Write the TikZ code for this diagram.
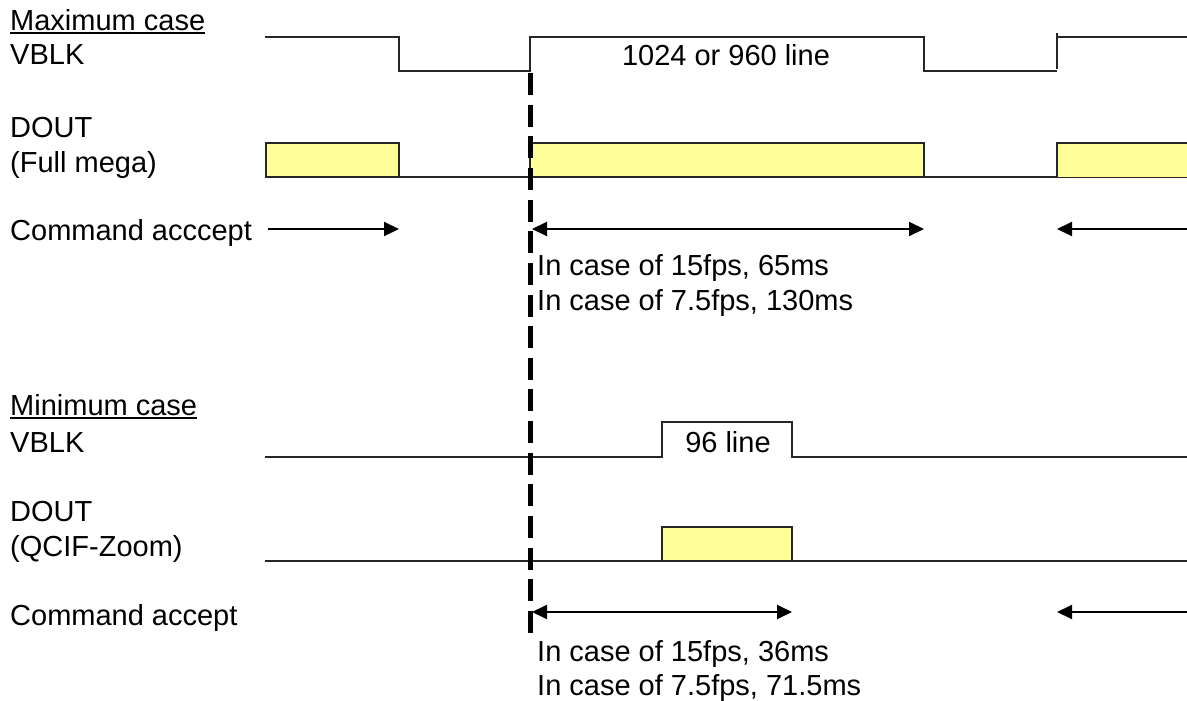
\documentclass[tikz,border=0pt]{standalone}
\usepackage{fontspec}
\setmainfont{Liberation Sans}
\usepackage{tikz}
\usetikzlibrary{positioning}
\usetikzlibrary{arrows.meta}
\definecolor{datayellow}{HTML}{FFFF99}

\begin{document}
\begin{tikzpicture}[x=1pt, y=-1pt, font=\fontsize{29}{34}\selectfont,
  >={Triangle[length=15pt,width=14pt]},
  txt/.style = {anchor=base west, inner sep=0pt},
  wave/.style = {line width=2pt, black!85},
  data/.style = {draw=black!85, line width=2pt, fill=datayellow},
  span/.style = {line width=2pt},
  marker/.style = {line width=5pt, dash pattern=on 22pt off 9.65pt}]
            \useasboundingbox (0,0) rectangle (1187,701);
            % Labels
            \node[txt] (maxcase) at (10,31) {Maximum case};
            \node[txt] (vblk1) at (10,65) {VBLK};
            \node[txt] (dout1) at (10,137) {DOUT};
            \node[txt] (full) at (10,172) {(Full mega)};
            \node[txt] (cmd1) at (10,240) {Command acccept};
            \node[txt] (fps15a) at (537,275) {In case of 15fps, 65ms};
            \node[txt] (fps75a) at (537,310) {In case of 7.5fps, 130ms};
            \node[anchor=base, inner sep=0pt] (line1) at (726,66) {1024 or 960 line};
            \node[txt] (mincase) at (10,415) {Minimum case};
            \node[txt] (vblk2) at (10,452) {VBLK};
            \node[txt] (dout2) at (10,521) {DOUT};
            \node[txt] (qcif) at (10,556) {(QCIF-Zoom)};
            \node[txt] (cmd2) at (10,625) {Command accept};
            \node[txt] (fps15b) at (537,661) {In case of 15fps, 36ms};
            \node[txt] (fps75b) at (537,695) {In case of 7.5fps, 71.5ms};
            \node[anchor=base, inner sep=0pt] (line2) at (728,452) {96 line};
            \draw[line width=2pt] ([yshift=-2.5pt]maxcase.base west) -- ([yshift=-2.5pt]maxcase.base east);
            \draw[line width=2pt] ([yshift=-2.5pt]mincase.base west) -- ([yshift=-2.5pt]mincase.base east);
            % Maximum case waveforms
            \draw[wave] (265,37) -| (399,71) -| (530,37) -| (924,71) -- (1057,71);
            \draw[wave] (1057,33) -- (1057,69);
            \draw[wave] (1057,37) -- (1187,37);
            \draw[wave] (265,177) -- (1187,177);
            \draw[data] (266,143) rectangle (399,177);
            \draw[data] (530,143) rectangle (924,177);
            \fill[datayellow] (1057,143) rectangle (1192,177);
            \draw[wave] (1192,143) -- (1057,143) -- (1057,177);
            % Minimum case waveforms
            \draw[wave] (265,457) -| (662,422) -| (792,457) -- (1187,457);
            \draw[wave] (265,561) -- (1187,561);
            \draw[data] (662,527) rectangle (792,561);
            % Command accept spans
            \coordinate (a1) at (268,229);
            \coordinate (b1) at (399,229);
            \coordinate (a2) at (532,229);
            \coordinate (b2) at (924,229);
            \coordinate (a3) at (1187,229);
            \coordinate (b3) at (1057,229);
            \coordinate (a4) at (532,612);
            \coordinate (b4) at (792,612);
            \coordinate (a5) at (1187,612);
            \coordinate (b5) at (1057,612);
            \draw[span, ->] (a1) -- (b1);
            \draw[span, <->] (a2) -- (b2);
            \draw[span, ->] (a3) -- (b3);
            \draw[span, <->] (a4) -- (b4);
            \draw[span, ->] (a5) -- (b5);
            % Frame start marker
            \coordinate (top) at (530,73);
            \coordinate (bottom) at (530,633);
            \draw[marker] (bottom) -- (top);
\end{tikzpicture}
\end{document}
